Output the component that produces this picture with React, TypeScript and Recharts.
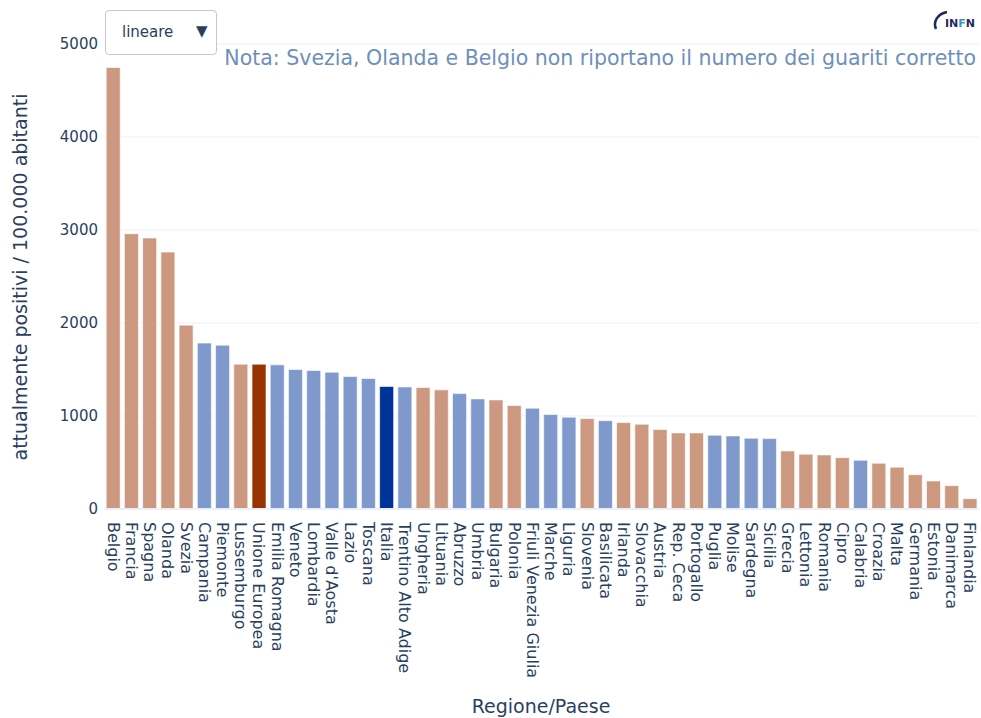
import { Bar, BarChart, CartesianGrid, Cell, ReferenceLine, XAxis, YAxis } from "recharts";

// Categories in plotted order (sorted by value, highest first)
const places = [
  "Belgio", "Francia", "Spagna", "Olanda", "Svezia", "Campania", "Piemonte", "Lussemburgo",
  "Unione Europea", "Emilia Romagna", "Veneto", "Lombardia", "Valle d'Aosta", "Lazio", "Toscana",
  "Italia", "Trentino Alto Adige", "Ungheria", "Lituania", "Abruzzo", "Umbria", "Bulgaria",
  "Polonia", "Friuli Venezia Giulia", "Marche", "Liguria", "Slovenia", "Basilicata", "Irlanda",
  "Slovacchia", "Austria", "Rep. Ceca", "Portogallo", "Puglia", "Molise", "Sardegna", "Sicilia",
  "Grecia", "Lettonia", "Romania", "Cipro", "Calabria", "Croazia", "Malta", "Germania",
  "Estonia", "Danimarca", "Finlandia",
];

// Currently positive per 100,000 inhabitants
const positives = [
  4747, 2960, 2914, 2763, 1977, 1784, 1762, 1557,
  1557, 1550, 1500, 1489, 1471, 1424, 1403,
  1317, 1313, 1306, 1281, 1241, 1184, 1173,
  1112, 1084, 1015, 987, 972, 950, 929,
  911, 854, 818, 818, 793, 786, 761, 757,
  624, 589, 581, 552, 524, 492, 449, 369,
  301, 251, 111,
];

// Italian regions get the blue colour, foreign countries the brown one
const italianRegions = [
  "Campania", "Piemonte", "Emilia Romagna", "Veneto", "Lombardia", "Valle d'Aosta", "Lazio",
  "Toscana", "Trentino Alto Adige", "Abruzzo", "Umbria", "Friuli Venezia Giulia", "Marche",
  "Liguria", "Basilicata", "Puglia", "Molise", "Sardegna", "Sicilia", "Calabria",
];

const yTicks = [0, 1000, 2000, 3000, 4000, 5000];

const data = places.map((place, i) => ({ place, value: positives[i] }));

const FONT = "'DejaVu Sans', Verdana, sans-serif";
const INK = "#2a3f5f";

function barColor(place: string): string {
  if (place === "Italia") return "#003399";
  if (place === "Unione Europea") return "#993300";
  return italianRegions.includes(place) ? "#8099cc" : "#cc9980";
}

/** Category label written downward, like a tickangle of 90. */
function DownTick(props: any) {
  const { x, y, payload } = props;
  return (
    <text
      transform={`translate(${x},${y + 5}) rotate(90)`}
      textAnchor="start"
      dominantBaseline="central"
      fill={INK}
      fontSize={16}
      fontFamily={FONT}
    >
      {payload.value}
    </text>
  );
}

function InfnLogo() {
  return (
    <svg width={50} height={26} style={{ position: "absolute", left: 931, top: 8 }}>
      <path d="M16 4 C 6 6, 2 14, 5 21" stroke="#1d2b5c" strokeWidth={2.5} fill="none" />
      <text x={14} y={19} fontSize={11} fontWeight="bold" fontFamily={FONT} fill="#1d2b5c">
        IN
        <tspan fill="#3f8fd0">F</tspan>
        N
      </text>
    </svg>
  );
}

export default function App() {
  return (
    <div
      style={{
        position: "absolute",
        left: 0,
        top: 0,
        width: 981,
        height: 718,
        background: "#fff",
        fontFamily: FONT,
      }}
    >
      <BarChart
        width={981}
        height={718}
        data={data}
        margin={{ top: 44, right: 2, bottom: 30, left: 0 }}
        barCategoryGap="12%"
      >
        <CartesianGrid vertical={false} stroke="#ebf0f8" />
        <YAxis
          domain={[0, 5000]}
          ticks={yTicks}
          width={104}
          axisLine={false}
          tickLine={false}
          tickSize={0}
          tickMargin={6}
          tick={{ fill: INK, fontSize: 15, fontFamily: FONT }}
        />
        <XAxis
          dataKey="place"
          interval={0}
          height={179}
          axisLine={false}
          tickLine={false}
          tick={<DownTick />}
        />
        <Bar dataKey="value" isAnimationActive={false} stroke="rgba(255,255,255,0.6)" strokeWidth={1}>
          {data.map((d) => (
            <Cell key={d.place} fill={barColor(d.place)} />
          ))}
        </Bar>
        <ReferenceLine y={0} stroke="#ebf0f8" strokeWidth={2} />
      </BarChart>

      <div
        style={{
          position: "absolute",
          left: 20,
          top: 277,
          transform: "translate(-50%, -50%) rotate(-90deg)",
          whiteSpace: "nowrap",
          fontSize: 19,
          color: INK,
        }}
      >
        attualmente positivi / 100.000 abitanti
      </div>
      <div
        style={{
          position: "absolute",
          left: 541,
          top: 706,
          transform: "translate(-50%, -50%)",
          whiteSpace: "nowrap",
          fontSize: 19,
          color: INK,
        }}
      >
        Regione/Paese
      </div>
      <div
        style={{
          position: "absolute",
          right: 5,
          top: 58,
          transform: "translateY(-50%)",
          whiteSpace: "nowrap",
          fontSize: 20.5,
          color: "#6e8fbb",
        }}
      >
        Nota: Svezia, Olanda e Belgio non riportano il numero dei guariti corretto
      </div>

      <div
        style={{
          position: "absolute",
          left: 105,
          top: 10,
          width: 112,
          height: 45,
          boxSizing: "border-box",
          border: "1px solid #bec8d9",
          borderRadius: 4,
          background: "#fff",
          color: INK,
          fontSize: 15,
        }}
      >
        <span style={{ position: "absolute", left: 16, top: 12 }}>lineare</span>
        <span style={{ position: "absolute", left: 90, top: 11, fontSize: 15 }}>▼</span>
      </div>

      <InfnLogo />
    </div>
  );
}
